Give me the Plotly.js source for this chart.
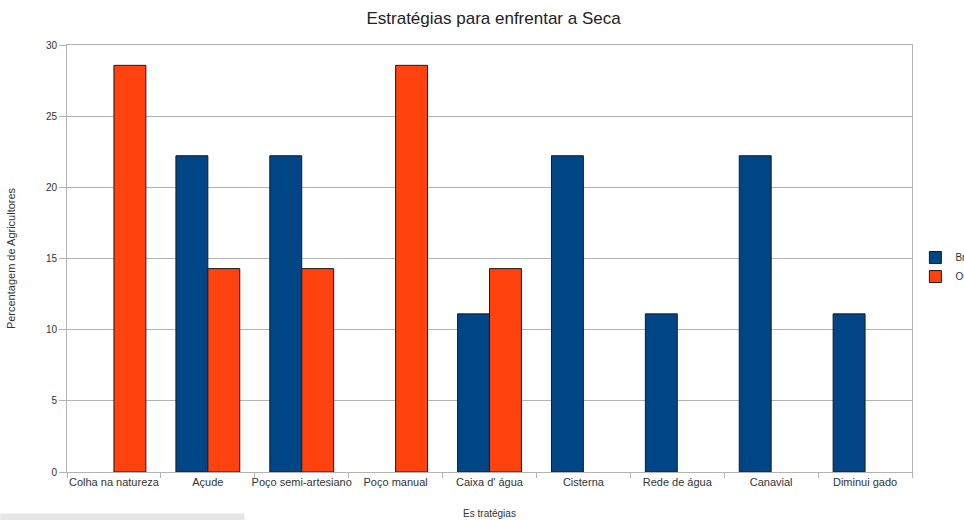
<!DOCTYPE html>
<html><head><meta charset="utf-8">
<script src="https://cdn.plot.ly/plotly-3.0.1.min.js"></script>
<style>html,body{margin:0;padding:0;background:#fff}#c{width:964px;height:520px}</style>
</head><body><div id="c"></div>
<script>
const categories = ["Colha na natureza","Açude","Poço semi-artesiano","Poço manual","Caixa d' água","Cisterna","Rede de água","Canavial","Diminui gado"];
const serieA = [null, 22.22, 22.22, null, 11.11, 22.22, 11.11, 22.22, 11.11];
const serieB = [28.57, 14.29, 14.29, 28.57, 14.29, null, null, null, null];
const seriesNames = ["Brasil", "Outros"];

const data = [
  {type:"bar", x:categories, y:serieA, name:seriesNames[0], marker:{color:"#004586", line:{color:"#1a1a1a", width:1}}},
  {type:"bar", x:categories, y:serieB, name:seriesNames[1], marker:{color:"#ff420e", line:{color:"#1a1a1a", width:1}}}
];
const layout = {
  width:964, height:520,
  margin:{l:67, r:52, t:45, b:48, autoexpand:false},
  paper_bgcolor:"#fff", plot_bgcolor:"#fff",
  font:{family:"Liberation Sans, Arial, sans-serif", size:10, color:"#333"},
  title:{text:"Estratégias para enfrentar a Seca", x:0.512, xanchor:"center", y:0.965, yanchor:"middle", font:{size:17, color:"#222"}},
  barmode:"group", bargap:0.32, bargroupgap:0,
  showlegend:true,
  legend:{x:1.004, y:0.48, xanchor:"left", yanchor:"middle", font:{size:10, color:"#333"}, itemwidth:30, tracegroupgap:0, bgcolor:"rgba(0,0,0,0)"},
  xaxis:{title:{text:"Es tratégias", font:{size:10}, standoff:22}, automargin:false, tickangle:0, showline:true, linecolor:"#b3b3b3", mirror:true, ticks:"outside", tickson:"boundaries", ticklen:5, tickcolor:"#b3b3b3", showgrid:false, tickfont:{size:11}},
  yaxis:{title:{text:"Percentagem de Agricultores", font:{size:11}, standoff:28}, automargin:false, range:[0,30], dtick:5, showline:true, linecolor:"#b3b3b3", mirror:true, ticks:"outside", ticklen:7, tickcolor:"#b3b3b3", gridcolor:"#b3b3b3", gridwidth:1, zeroline:false, tickfont:{size:10}},
  shapes:[{type:"rect", xref:"paper", yref:"paper", x0:-0.079, x1:0.21, y0:-0.113, y1:-0.097, fillcolor:"#e6e6e6", line:{width:0}}]
};
Plotly.newPlot("c", data, layout, {displayModeBar:false, staticPlot:true});
</script></body></html>
